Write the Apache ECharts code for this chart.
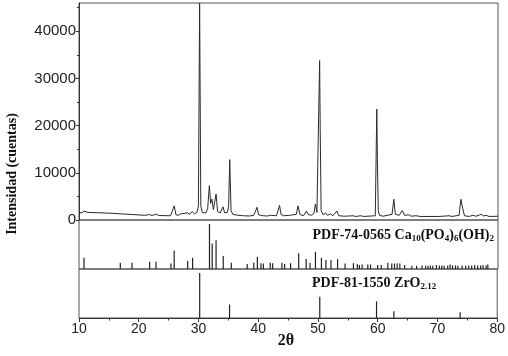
<!DOCTYPE html>
<html><head><meta charset="utf-8">
<script src="https://cdn.jsdelivr.net/npm/echarts@6/dist/echarts.min.js"></script>
<style>html,body{margin:0;padding:0;background:#fff}#c{width:508px;height:356px}</style>
</head><body><div id="c"></div>
<script>
// ---- data ----
const xTickValues = [10, 20, 30, 40, 50, 60, 70, 80];
const yTickValues = [0, 10000, 20000, 30000, 40000];
const yMinorValues = [5000, 15000, 25000, 35000, 45000];

// measured pattern (2θ, counts)
const patternTheta = [10.0,10.5,10.7,10.85,11.0,11.5,13,15,17,19,21,21.8,22.2,22.9,23.3,25.3,25.6,25.9,26.2,26.6,27.0,27.3,28.1,28.5,28.9,29.3,29.7,29.95,30.15,30.35,30.6,31.2,31.5,31.78,32.0,32.2,32.45,32.6,32.9,33.15,33.6,34.05,34.35,34.8,35.0,35.18,35.4,35.7,36.5,37.5,38.5,39.2,39.5,39.75,40.0,40.4,40.8,41.5,42.0,42.3,43.0,43.25,43.5,43.75,44.2,45.2,45.5,46.3,46.6,46.9,47.5,48.0,48.25,48.5,48.8,49.25,49.5,49.75,50.0,50.2,50.3,50.45,50.8,51.2,51.5,52.0,52.4,53.1,53.4,54.5,55.8,56.2,57.1,57.5,59.5,59.75,59.85,60.0,60.2,60.5,60.8,62.3,62.6,62.85,63.5,64.0,64.4,65.1,65.5,66.3,67,70,71.9,72.3,73.5,73.8,74.1,74.4,75.2,75.8,76.3,77.2,77.6,78.0,78.5,80.0];
const patternCounts = [1500,1550,1700,1900,1700,1600,1550,1450,1300,1150,1000,1150,950,1250,950,900,1200,3000,1100,1000,1300,1000,1500,1200,1800,1300,1600,3000,46000,3000,1600,1500,2500,7300,3500,4400,2200,2500,5500,1800,1500,2800,1500,1600,3000,12800,2000,1200,1000,900,850,1000,1100,2700,1100,1000,900,850,1000,850,900,1200,3100,1200,900,1000,900,1200,3000,1200,900,1900,1200,1300,1000,1400,3400,1600,2000,33800,19000,2000,1100,1500,1000,1300,900,1900,900,800,900,750,900,750,900,23500,13000,2000,1000,1100,800,1200,4400,1200,1000,2000,1000,1100,800,900,750,750,900,750,1000,4400,2500,900,750,1000,800,1200,850,1000,750,800];

// PDF-74-0565 hydroxyapatite sticks (2θ, relative intensity)
const haTheta = [10.83,16.9,18.85,21.8,22.86,25.36,25.9,28.15,28.98,31.8,32.25,32.9,34.1,35.45,38.1,39.2,39.8,40.4,40.8,41.95,42.35,43.9,44.35,45.35,46.7,47.95,48.6,49.5,50.5,51.25,52.1,53.2,54.45,55.85,56.5,56.85,57.3,58.25,58.7,59.9,60.5,61.6,62.25,62.7,63.15,63.6,64.4,65.6,66.4,67.3,67.9,68.3,68.7,69.1,69.7,70.2,70.6,71.0,71.6,72.0,72.4,72.9,73.3,74.0,74.6,75.1,75.6,76.1,76.6,77.1,77.5,78.0,78.3];
const haIntensity = [25,14,14,16,16,12,41,18,25,100,57,64,29,14,11,14,27,13,12,14,13,14,11,13,35,22,14,38,25,20,20,22,12,13,11,9,10,10,10,9,9,14,12,12,13,12,9,7,7,8,7,7,8,7,9,8,8,7,8,10,8,8,7,8,7,8,8,9,8,8,9,8,10];

// PDF-81-1550 ZrO2.12 sticks
const zrTheta = [30.2, 35.2, 50.3, 59.8, 62.7, 73.8];
const zrIntensity = [100, 30, 47, 37, 15, 13];

// ---- chart ----
const pattern = patternTheta.map((t, i) => [t, patternCounts[i]]);
const ha = haTheta.map((t, i) => [t, haIntensity[i]]);
const zr = zrTheta.map((t, i) => [t, zrIntensity[i]]);

const L = 79, R = 10;
const sans = 'Liberation Sans';
const serif = 'Liberation Serif';
const chart = echarts.init(document.getElementById('c'), null, {renderer: 'canvas'});
const frame = {show: true, borderColor: '#555', borderWidth: 1, backgroundColor: 'transparent'};
const subRich = {
  m: {fontFamily: serif, fontWeight: 'bold', fontSize: 14, fill: '#111', lineHeight: 17},
  s: {fontFamily: serif, fontWeight: 'bold', fontSize: 9, fill: '#111', verticalAlign: 'bottom', lineHeight: 9}
};
chart.setOption({
  animation: false,
  backgroundColor: '#fff',
  grid: [
    Object.assign({left: L, right: R, top: 3, height: 217}, frame),
    Object.assign({left: L, right: R, top: 220, height: 49}, frame),
    Object.assign({left: L, right: R, top: 269, height: 49}, frame)
  ],
  xAxis: [
    {gridIndex: 0, type: 'value', min: 10, max: 80, show: false},
    {gridIndex: 1, type: 'value', min: 10, max: 80, show: false},
    {gridIndex: 2, type: 'value', min: 10, max: 80, interval: 10,
     axisLine: {lineStyle: {color: '#333', width: 1}},
     axisTick: {show: true, length: 4, lineStyle: {color: '#333'}, customValues: xTickValues},
     minorTick: {show: true, splitNumber: 2, length: 2.5, lineStyle: {color: '#333'}},
     axisLabel: {fontFamily: sans, fontSize: 14, color: '#222', margin: 4, customValues: xTickValues},
     splitLine: {show: false}}
  ],
  yAxis: [
    {gridIndex: 0, type: 'value', min: 0, max: 46000, position: 'left',
     axisLine: {show: true, lineStyle: {color: '#333'}},
     axisTick: {show: true, length: 3, lineStyle: {color: '#333'}, customValues: yTickValues},
     axisLabel: {fontFamily: sans, fontSize: 15, color: '#222', margin: 3, customValues: yTickValues,
                 formatter: v => String(v)},
     splitLine: {show: false}},
    {gridIndex: 0, type: 'value', min: 0, max: 46000, position: 'left',
     axisLine: {show: false},
     axisTick: {show: true, length: 2, lineStyle: {color: '#333'}, customValues: yMinorValues},
     axisLabel: {show: false},
     splitLine: {show: false}},
    {gridIndex: 1, type: 'value', min: 0, max: 109, show: false},
    {gridIndex: 2, type: 'value', min: 0, max: 109, show: false}
  ],
  series: [
    {type: 'line', xAxisIndex: 0, yAxisIndex: 0, data: pattern, showSymbol: false,
     lineStyle: {color: '#2a2a2a', width: 1}, clip: true},
    {type: 'bar', xAxisIndex: 1, yAxisIndex: 2, data: ha, barWidth: 1.2,
     itemStyle: {color: '#222'}},
    {type: 'bar', xAxisIndex: 2, yAxisIndex: 3, data: zr, barWidth: 1.2,
     itemStyle: {color: '#222'}}
  ],
  graphic: [
    {type: 'text', x: 12, y: 174, rotation: Math.PI / 2,
     style: {text: 'Intensidad (cuentas)', align: 'center', verticalAlign: 'middle',
             font: 'bold 14px "Liberation Serif"', fill: '#111'}},
    {type: 'text', x: 286, y: 341,
     style: {text: '2θ', align: 'center', verticalAlign: 'middle',
             font: 'bold 16px "Liberation Serif"', fill: '#111'}},
    {type: 'text', x: 494, y: 235,
     style: {text: '{m|PDF-74-0565 Ca}{s|10}{m|(PO}{s|4}{m|)}{s|6}{m|(OH)}{s|2}',
             align: 'right', verticalAlign: 'middle', rich: subRich}},
    {type: 'text', x: 312, y: 283,
     style: {text: '{m|PDF-81-1550 ZrO}{s|2.12}',
             align: 'left', verticalAlign: 'middle', rich: subRich}}
  ]
});
</script></body></html>
